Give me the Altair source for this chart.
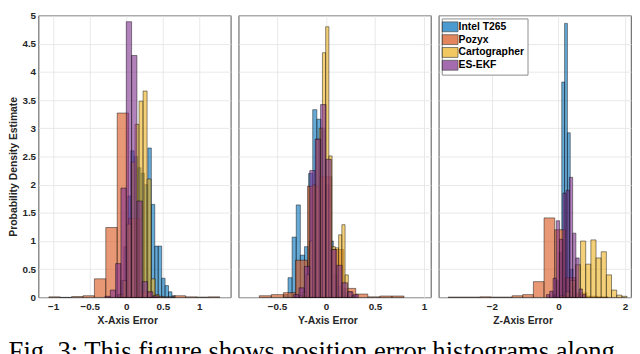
import altair as alt
import pandas as pd

SERIES = ["Intel T265", "Pozyx", "Cartographer", "ES-EKF"]
COLORS = ["#0072BD", "#D95319", "#EDB120", "#7E2F8E"]

# ---- X-axis error: (first bin edge, bin width) and density per bin ----
x_t265_bins = (-0.127, 0.047)
x_t265 = [0.05, 0.3, 0.9, 1.8, 2.6, 2.5, 2.3, 2.2, 2.0, 2.65, 1.65, 0.91, 0.91, 0.34, 0.21, 0.1, 0.03]
x_pozyx_bins = (-1.06, 0.156)
x_pozyx = [0.01, 0.0, 0.015, 0.03, 0.33, 1.24, 3.27, 1.4, 0.1, 0.02, 0.01, 0.03, 0.01, 0.005, 0.01]
x_carto_bins = (-0.1, 0.055)
x_carto = [0.05, 0.3, 1.3, 2.4, 3.07, 3.48, 3.66, 2.1, 0.33, 0.05]
x_eskf_bins = (-0.292, 0.073)
x_eskf = [0.02, 0.13, 0.6, 1.94, 4.89, 4.29, 1.71, 0.28, 0.1, 0.03]

# ---- Y-axis error ----
y_t265_bins = (-0.429, 0.042)
y_t265 = [0.05, 0.35, 1.07, 1.64, 0.75, 0.9, 2.2, 3.33, 3.16, 3.0, 2.0, 1.0, 0.4, 0.2, 0.1, 0.05]
y_pozyx_bins = (-0.68, 0.123)
y_pozyx = [0.03, 0.05, 0.085, 0.66, 1.97, 2.14, 0.85, 0.16, 0.06, 0.01, 0.025, 0.025]
y_carto_bins = (-0.267, 0.033)
y_carto = [0.03, 0.1, 0.4, 1.0, 2.0, 2.8, 3.0, 4.34, 4.8, 2.51, 0.9, 0.88, 1.11, 1.29, 0.4, 0.1, 0.03]
y_eskf_bins = (-0.33, 0.055)
y_eskf = [0.05, 0.17, 0.55, 2.25, 2.81, 3.42, 2.45, 0.85, 0.57, 0.26, 0.1, 0.05]

# ---- Z-axis error ----
z_t265_bins = (-0.154, 0.085)
z_t265 = [0.05, 0.3, 0.8, 3.82, 4.86, 2.92, 0.5, 0.2, 0.05]
z_pozyx_bins = (-3.31, 0.32)
z_pozyx = [0.005, 0.005, 0.005, 0.01, 0.005, 0.005, 0.03, 0.05, 0.28, 1.41, 1.2, 0.35, 0.08, 0.02, 0.01]
z_carto_bins = (0.045, 0.155)
z_carto = [0.03, 0.1, 0.3, 0.58, 1.0, 0.59, 1.02, 0.7, 0.81, 0.4, 0.13, 0.04, 0.02]
z_eskf_bins = (-0.356, 0.098)
z_eskf = [0.05, 0.11, 0.34, 1.36, 1.03, 1.85, 1.9, 2.13, 1.14, 0.7, 0.15, 0.05]

x_domain = [-1.2, 1.43]
y_domain = [-0.89, 1.07]
z_domain = [-3.59, 2.18]
x_ticks = [-1, -0.5, 0, 0.5, 1]
y_ticks = [-0.5, 0, 0.5, 1]
z_ticks = [-2, 0, 2]
density_ticks = [0, 0.5, 1, 1.5, 2, 2.5, 3, 3.5, 4, 4.5, 5]
CAPTION = "Fig. 3: This figure shows position error histograms along"


def rows(series, bins, heights):
    start, width = bins
    return [
        {"series": series, "order": SERIES.index(series),
         "lo": start + i * width, "hi": start + (i + 1) * width, "density": h}
        for i, h in enumerate(heights)
    ]


def frame(parts):
    out = []
    for s, b, h in parts:
        out += rows(s, b, h)
    return pd.DataFrame(out)


df_x = frame([(SERIES[0], x_t265_bins, x_t265), (SERIES[1], x_pozyx_bins, x_pozyx),
              (SERIES[2], x_carto_bins, x_carto), (SERIES[3], x_eskf_bins, x_eskf)])
df_y = frame([(SERIES[0], y_t265_bins, y_t265), (SERIES[1], y_pozyx_bins, y_pozyx),
              (SERIES[2], y_carto_bins, y_carto), (SERIES[3], y_eskf_bins, y_eskf)])
df_z = frame([(SERIES[0], z_t265_bins, z_t265), (SERIES[1], z_pozyx_bins, z_pozyx),
              (SERIES[2], z_carto_bins, z_carto), (SERIES[3], z_eskf_bins, z_eskf)])

FONT = "Liberation Sans"
TXT = "#262626"
W, H = 195, 286

legend_panel = alt.Legend(
    orient="top-left", title=None, offset=3,
    labelFont=FONT, labelFontWeight="bold", labelFontSize=10.5, labelColor="black",
    symbolType="M-1.6,-1H1.6V1H-1.6Z", symbolSize=100, symbolStrokeColor="black",
    symbolStrokeWidth=0.7, symbolOpacity=0.7, fillColor="white", strokeColor="#8c8c8c",
    padding=3, rowPadding=0, labelOffset=3,
)


def panel(df, title, domain, ticks, title_x, first=False, legend=False):
    if first:
        yaxis = alt.Axis(values=density_ticks, format="~g", title="Probability Density Estimate",
                         labelPadding=3, ticks=False, domain=False, grid=True,
                         titleX=-20, titleY=153, titleAngle=270, titleBaseline="bottom",
                         titleAlign="center")
    else:
        yaxis = alt.Axis(values=density_ticks, labels=False, title=None, ticks=False,
                         domain=False, grid=True)
    return alt.Chart(df).mark_rect(
        fillOpacity=0.6, stroke="black", strokeWidth=0.6, strokeOpacity=0.75
    ).encode(
        x=alt.X("lo:Q", scale=alt.Scale(domain=domain, nice=False, zero=False),
                axis=alt.Axis(values=ticks, format="~g", title=title, titleX=title_x,
                              labelPadding=4, titlePadding=4, ticks=False, domain=False, grid=True)),
        x2="hi:Q",
        y=alt.Y("density:Q", scale=alt.Scale(domain=[0, 5], nice=False), axis=yaxis),
        y2=alt.datum(0),
        fill=alt.Fill("series:N", scale=alt.Scale(domain=SERIES, range=COLORS),
                      legend=legend_panel if legend else None),
        order=alt.Order("order:Q"),
    ).properties(width=W, height=H)


p1 = panel(df_x, "X-Axis Error", x_domain, x_ticks, 90, first=True)
p2 = panel(df_y, "Y-Axis Error", y_domain, y_ticks, 90)
p3 = panel(df_z, "Z-Axis Error", z_domain, z_ticks, 85, legend=True)

chart = alt.hconcat(
    p1, p2, p3, spacing=6,
    title=alt.Title(CAPTION, orient="bottom", anchor="start", font="Liberation Serif",
                    fontSize=27, fontWeight="normal", color="black", baseline="top", offset=14),
).resolve_scale(fill="independent").resolve_legend(fill="independent").properties(
    padding={"left": 0, "top": -1, "right": 0, "bottom": 0}
).configure_view(
    stroke="#262626", strokeWidth=0.8
).configure_axis(
    labelFont=FONT, labelFontWeight="bold", labelFontSize=10, labelColor=TXT,
    titleFont=FONT, titleFontWeight="bold", titleFontSize=10.5, titleColor=TXT,
    gridColor="#e3e3e3", gridWidth=0.8,
)

chart.save("out.html", embed_options={"renderer": "svg", "actions": False})
